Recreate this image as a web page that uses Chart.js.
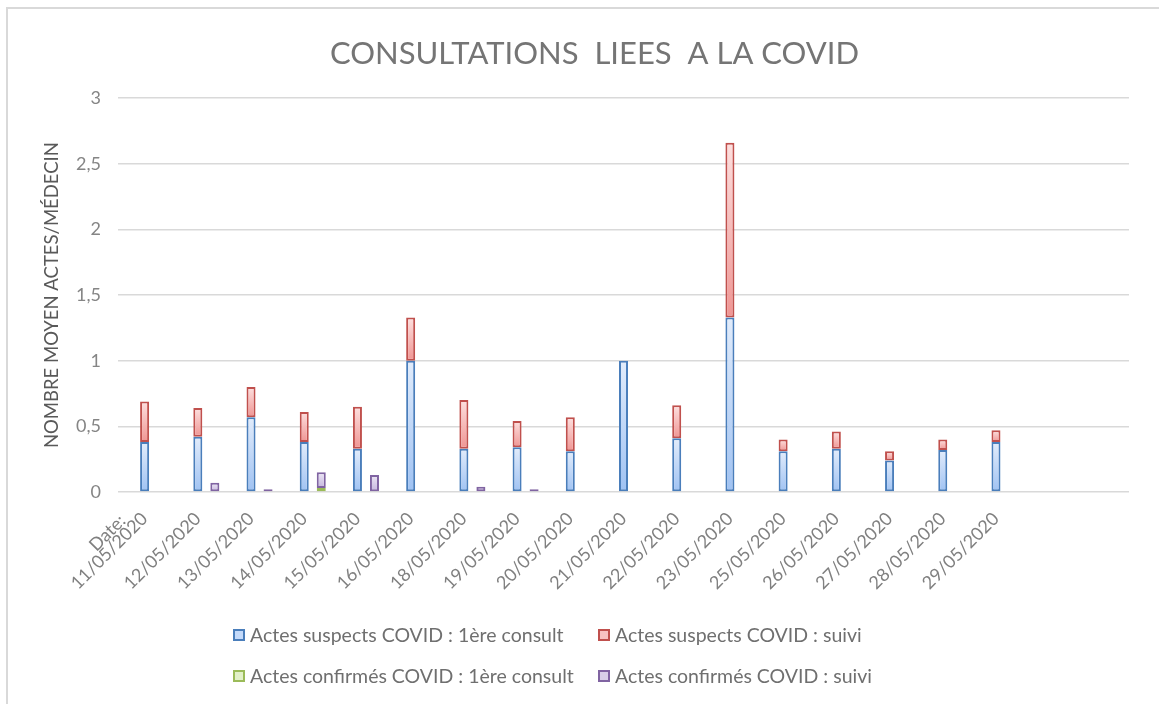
<!DOCTYPE html>
<html>
<head>
<meta charset="utf-8">
<script src="https://cdn.jsdelivr.net/npm/chart.js@4.4.1/dist/chart.umd.min.js"></script>
<style>
  body { margin: 0; background: #fff; font-family: Lato, "Open Sans", sans-serif; }
  #wrap { position: relative; width: 1159px; height: 704px; overflow: hidden; }
  #frame { position: absolute; left: 6px; top: 7px; right: 0; bottom: 0;
           border-top: 2px solid #d9d9d9; border-left: 2px solid #d9d9d9; }
  canvas { position: absolute; left: 0; top: 0; }
  #legend { position: absolute; left: 233px; top: 614px;
            display: grid; grid-template-columns: 365px auto; grid-auto-rows: 41px;
            color: #6f6f6f; font-size: 19.5px; }
  .item { display: flex; align-items: center; white-space: nowrap; }
  .box { width: 12px; height: 12px; box-sizing: border-box; border: 2px solid; margin-right: 5px; }
</style>
</head>
<body>
<div id="wrap">
  <div id="frame"></div>
  <canvas id="chart" width="1159" height="704"></canvas>
  <div id="legend"></div>
</div>
<script>
// ---------- Data ---------- //
const dates = [
  '11/05/2020', '12/05/2020', '13/05/2020', '14/05/2020', '15/05/2020', '16/05/2020',
  '18/05/2020', '19/05/2020', '20/05/2020', '21/05/2020', '22/05/2020', '23/05/2020',
  '25/05/2020', '26/05/2020', '27/05/2020', '28/05/2020', '29/05/2020'
];
// two empty slots after the last day
const labels = dates.concat(['', '']);

const suspectsFirst   = [0.38, 0.42, 0.57, 0.38, 0.33, 1.00, 0.33, 0.34, 0.31, 1.00, 0.41, 1.33, 0.31, 0.33, 0.24, 0.32, 0.38];
const suspectsFollow  = [0.31, 0.22, 0.23, 0.23, 0.32, 0.33, 0.37, 0.20, 0.26, null, 0.25, 1.33, 0.09, 0.13, 0.07, 0.08, 0.09];
const confirmedFirst  = [null, null, null, 0.03, null, null, null, null, null, null, null, null, null, null, null, null, null];
const confirmedFollow = [null, 0.07, 0.02, 0.12, 0.13, null, 0.04, 0.02, null, null, null, null, null, null, null, null, null];

const yTicks = [0, 0.5, 1, 1.5, 2, 2.5, 3];

// ---------- Helpers ---------- //
const gray = '#d9d9d9';
const legendFills = { '#4a7ebb': '#c4dafa', '#c0504d': '#f8c2c1', '#9bbb59': '#e2f0c8', '#8064a2': '#d8cfe8' };

// vertical gradient per bar segment, light at the top
function gradientFill(lower, values, light, dark) {
  return (ctx) => {
    const y = ctx.chart.scales.y;
    const i = ctx.dataIndex;
    if (ctx.type !== 'data' || !y || values[i] == null) return dark;
    const base = lower ? (lower[i] || 0) : 0;
    const top = y.getPixelForValue(base + values[i]);
    const bottom = y.getPixelForValue(base);
    if (!isFinite(top) || !isFinite(bottom) || top === bottom) return dark;
    const g = ctx.chart.ctx.createLinearGradient(0, top, 0, bottom);
    g.addColorStop(0, light);
    g.addColorStop(1, dark);
    return g;
  };
}

function series(label, data, stack, border, fill) {
  return {
    label, data, stack,
    borderColor: border,
    backgroundColor: fill,
    borderWidth: 2,
    borderSkipped: false,
    categoryPercentage: 0.96,
    barPercentage: 0.53
  };
}

// "Date:" caption sitting next to the first rotated date
const dateCaption = {
  id: 'dateCaption',
  afterDraw(chart) {
    const x = chart.scales.x;
    const ctx = chart.ctx;
    ctx.save();
    ctx.translate(x.getPixelForTick(0) - 22, x.top + 26);
    ctx.rotate(-Math.PI / 4);
    ctx.font = '18px Lato';
    ctx.fillStyle = '#808080';
    ctx.textAlign = 'right';
    ctx.textBaseline = 'middle';
    ctx.fillText('Date:', 0, 0);
    ctx.restore();
  }
};

// ---------- Chart ---------- //
const datasets = [
  // empty stack on the left so the suspect columns sit on the tick
  { label: '', data: labels.map(() => null), stack: 'pad', categoryPercentage: 0.96, barPercentage: 0.53 },
  series('Actes suspects COVID : 1ère consult', suspectsFirst, 'suspects', '#4a7ebb',
    gradientFill(null, suspectsFirst, '#e2ecfb', '#9fc2f3')),
  series('Actes suspects COVID : suivi', suspectsFollow, 'suspects', '#c0504d',
    gradientFill(suspectsFirst, suspectsFollow, '#fde0df', '#f09593')),
  series('Actes confirmés COVID : 1ère consult', confirmedFirst, 'confirmed', '#9bbb59',
    gradientFill(null, confirmedFirst, '#f0f7e2', '#d3e7ad')),
  series('Actes confirmés COVID : suivi', confirmedFollow, 'confirmed', '#8064a2',
    gradientFill(confirmedFirst, confirmedFollow, '#ece6f4', '#c5b5de'))
];

const chart = new Chart(document.getElementById('chart'), {
  type: 'bar',
  data: { labels, datasets },
  plugins: [dateCaption],
  options: {
    responsive: false,
    animation: false,
    devicePixelRatio: 1,
    layout: { padding: { left: 30, right: 0, top: 10, bottom: 92 } },
    plugins: {
      legend: { display: false },
      tooltip: { enabled: false },
      title: {
        display: true,
        text: 'CONSULTATIONS  LIEES  A LA COVID',
        color: '#757575',
        font: { family: 'Lato', size: 31, weight: 'normal' },
        padding: { top: 25, bottom: 26 }
      }
    },
    scales: {
      x: {
        stacked: true,
        grid: { display: false },
        border: { display: false },
        ticks: {
          autoSkip: false,
          minRotation: 45,
          maxRotation: 45,
          padding: 8,
          color: '#808080',
          font: { family: 'Lato', size: 18 }
        },
        afterFit(scale) { scale.height = 120; }
      },
      y: {
        stacked: true,
        min: 0,
        max: 3,
        afterBuildTicks(scale) { scale.ticks = yTicks.map(v => ({ value: v })); },
        grid: { color: gray, lineWidth: 1.5, drawTicks: false },
        border: { display: false },
        ticks: {
          padding: 17,
          color: '#858585',
          font: { family: 'Lato', size: 18 },
          callback: (v) => String(v).replace('.', ',')
        },
        title: {
          display: true,
          text: 'NOMBRE MOYEN ACTES/MÉDECIN',
          color: '#595959',
          font: { family: 'Lato', size: 18.5 },
          padding: { top: 11, bottom: 0 }
        },
        afterFit(scale) { scale.width = 88; }
      },
      // blank strip on the right edge of the plot
      yRight: {
        position: 'right',
        grid: { display: false },
        border: { display: false },
        ticks: { display: false },
        afterFit(scale) { scale.width = 30; }
      }
    }
  }
});

// ---------- Legend (two per row) ---------- //
const legend = document.getElementById('legend');
chart.data.datasets.filter(d => d.label).forEach(d => {
  const item = document.createElement('div');
  item.className = 'item';
  const box = document.createElement('span');
  box.className = 'box';
  box.style.borderColor = d.borderColor;
  box.style.background = legendFills[d.borderColor];
  item.appendChild(box);
  item.appendChild(document.createTextNode(d.label));
  legend.appendChild(item);
});
</script>
</body>
</html>
